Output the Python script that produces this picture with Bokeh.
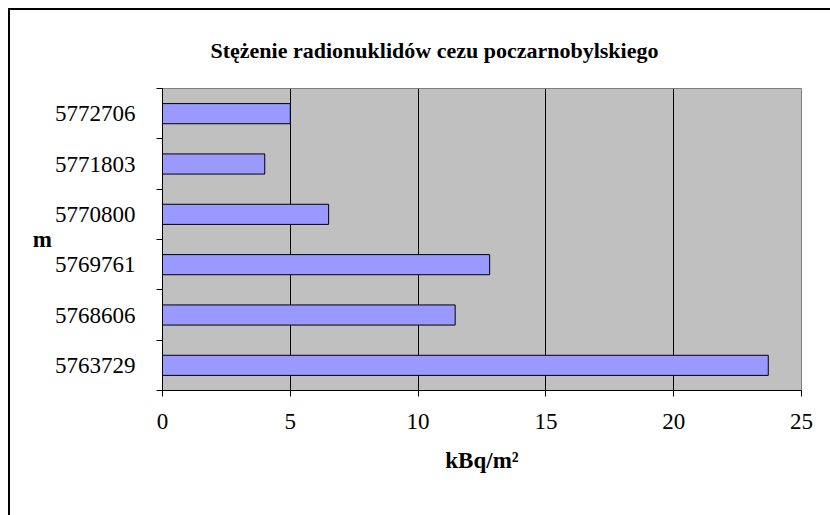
from bokeh.plotting import figure
from bokeh.models import ColumnDataSource, Range1d, FixedTicker, Title
from bokeh.embed import file_html
from bokeh.resources import INLINE

# ---- data (bottom to top) ----
categories = ["5763729", "5768606", "5769761", "5770800", "5771803", "5772706"]
values = [23.7, 11.45, 12.8, 6.5, 4.0, 5.0]
x_ticks = [0, 5, 10, 15, 20, 25]
title_text = "Stężenie radionuklidów cezu  poczarnobylskiego"
x_label = "kBq/m²"
y_label = "m"

FONT = "Liberation Serif"
n = len(categories)
centers = [i + 0.5 for i in range(n)]
bounds = [i for i in range(n + 1)]

source = ColumnDataSource(dict(y=centers, val=values, cat=categories))

p = figure(width=820, height=505, output_backend="svg", toolbar_location=None,
           x_range=Range1d(0, 25), y_range=Range1d(0, n),
           min_border_left=152, min_border_right=31,
           min_border_top=78, min_border_bottom=127,
           margin=(8, 0, 0, 8),
           styles={"border-left": "2px solid black",
                   "border-top": "2px solid black",
                   "box-sizing": "content-box"})
p.title = Title(text=title_text, align="left", offset=48, standoff=51,
                vertical_align="bottom",
                text_font=FONT, text_font_size="22px", text_font_style="bold",
                text_color="black")

p.background_fill_color = "#C0C0C0"
p.border_fill_color = "white"
p.outline_line_color = "#808080"
p.outline_line_width = 1

p.hbar(y="y", left=0, right="val", height=0.4, source=source,
       fill_color="#9999FF", line_color="black", line_width=1)

# grid
p.ygrid.visible = False
p.xgrid.ticker = FixedTicker(ticks=[5, 10, 15, 20])
p.xgrid.grid_line_color = "black"
p.xgrid.grid_line_width = 1

# x axis
xa = p.xaxis[0]
xa.ticker = FixedTicker(ticks=x_ticks)
xa.major_tick_out = 6
xa.major_tick_in = 0
xa.minor_tick_out = 0
xa.minor_tick_in = 0
xa.axis_line_color = "black"
xa.major_tick_line_color = "black"
xa.major_label_text_font = FONT
xa.major_label_text_font_size = "23px"
xa.major_label_text_color = "black"
xa.major_label_standoff = 17
xa.axis_label = x_label
xa.axis_label_text_font = FONT
xa.axis_label_text_font_size = "23px"
xa.axis_label_text_font_style = "bold"
xa.axis_label_text_color = "black"
xa.axis_label_standoff = 16

# y axis
ya = p.yaxis[0]
ya.ticker = FixedTicker(ticks=centers, minor_ticks=bounds)
ya.major_label_overrides = {c: lab for c, lab in zip(centers, categories)}
ya.major_tick_out = 0
ya.major_tick_in = 0
ya.minor_tick_out = 6
ya.minor_tick_in = 0
ya.minor_tick_line_color = "black"
ya.axis_line_color = "black"
ya.major_label_text_font = FONT
ya.major_label_text_font_size = "23px"
ya.major_label_text_color = "black"
ya.major_label_standoff = 21
ya.axis_label = y_label
ya.axis_label_orientation = "horizontal"
ya.axis_label_text_font = FONT
ya.axis_label_text_font_size = "23px"
ya.axis_label_text_font_style = "bold"
ya.axis_label_text_color = "black"
ya.axis_label_standoff = 0

open("out.html", "w").write(file_html(p, INLINE))
